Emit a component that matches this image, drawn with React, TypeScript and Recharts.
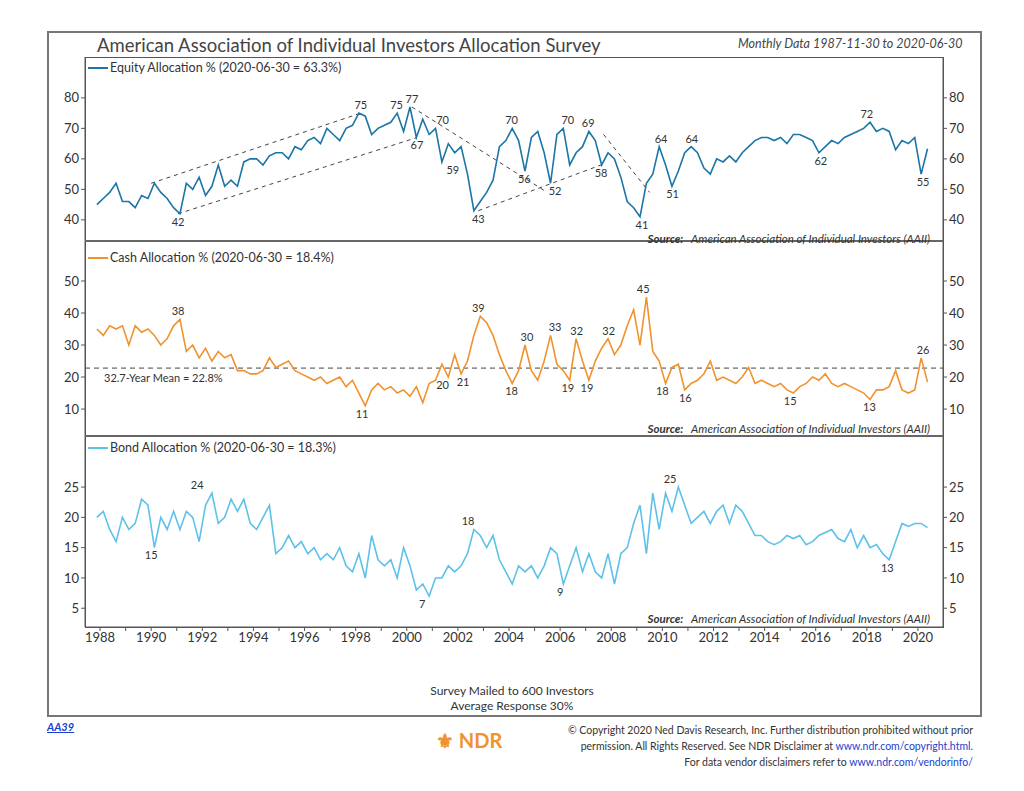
import React from "react";
import { LineChart, Line, XAxis, YAxis, ReferenceLine, ReferenceDot } from "recharts";

const START = 1987.875;
const STEP = 0.25;

const equity = [45,
 47,49,52,46, 46,44,48,47, 52,49,47,44, 42,52,50,54, 48,51,58,51, 53,51,59,60, 60,58,61,62, 62,60,64,63,
 66,67,65,70, 68,66,70,71, 75,74,68,70, 71,72,75,69, 77,67,73,68, 70,59,65,62, 64,55,43,46, 49,53,64,66,
 70,66,56,67, 69,62,52,68, 70,58,62,64, 69,66,58,62, 60,54,46,44, 41,52,55,64, 58,51,56,62, 64,62,57,55,
 60,59,61,59, 62,64,66,67, 67,66,67,65, 68,68,67,66, 62,64,66,65, 67,68,69,70, 72,69,70,69, 63,66,65,67,
 55,63.3];
const cash = [35,
 33,36,35,36, 30,36,34,35, 33,30,32,36, 38,28,30,26, 29,25,28,26, 27,22,22,21, 21,22,26,23, 24,25,22,21,
 20,19,20,18, 19,20,17,19, 15,11,16,18, 16,17,15,16, 14,17,12,18, 19,24,20,27, 21,25,33,39, 37,33,27,22,
 18,22,30,22, 19,25,33,24, 22,19,32,25, 19,25,29,32, 27,30,36,41, 30,45,28,25, 18,23,24,16, 18,19,21,25,
 19,20,19,18, 20,23,18,19, 18,17,18,16, 15,17,18,20, 19,21,18,17, 18,17,16,15, 13,16,16,17, 22,16,15,16,
 26,18.4];
const bond = [20,
 21,18,16,20, 18,19,23,22, 15,20,18,21, 18,21,20,16, 22,24,19,20, 23,21,23,19, 18,20,22,14, 15,17,15,16,
 14,15,13,14, 13,15,12,11, 14,10,17,13, 12,13,10,15, 12,8,9,7, 10,10,12,11, 12,14,18,17, 15,17,13,11,
 9,12,11,12, 10,12,15,14, 9,12,15,11, 14,11,10,14, 9,14,15,19, 22,14,24,18, 24,21,25,22, 19,20,21,19,
 21,22,19,22, 21,19,17,17, 16,15.5,16,17, 16.5,17,15.5,16, 17,17.5,18,16.5, 16,18,15,17, 15,15.5,14,13, 16,19,18.5,19,
 19,18.3];

const data = equity.map((e, i) => ({ t: START + i * STEP, equity: e, cash: cash[i], bond: bond[i] }));

const yearTicks = Array.from({ length: 33 }, (_, i) => 1988 + i);
const equityTicks = [40, 50, 60, 70, 80];
const cashTicks = [10, 20, 30, 40, 50];
const bondTicks = [5, 10, 15, 20, 25];

const equityNotes = [
  { t: 1991.05, v: 42, pos: "bottom" }, { t: 1998.2, v: 75, pos: "top" }, { t: 1999.6, v: 75, pos: "top" },
  { t: 2000.2, v: 77, pos: "top" }, { t: 2000.4, v: 67, pos: "bottom" }, { t: 2001.4, v: 70, pos: "top" },
  { t: 2001.8, v: 59, pos: "bottom" }, { t: 2002.8, v: 43, pos: "bottom" }, { t: 2004.1, v: 70, pos: "top" },
  { t: 2004.6, v: 56, pos: "bottom" }, { t: 2005.8, v: 52, pos: "bottom" }, { t: 2006.3, v: 70, pos: "top" },
  { t: 2007.1, v: 69, pos: "top" }, { t: 2007.6, v: 58, pos: "bottom" }, { t: 2009.2, v: 41, pos: "bottom" },
  { t: 2009.95, v: 64, pos: "top" }, { t: 2010.4, v: 51, pos: "bottom" }, { t: 2011.15, v: 64, pos: "top" },
  { t: 2016.2, v: 62, pos: "bottom" }, { t: 2018.0, v: 72, pos: "top" }, { t: 2020.2, v: 55, pos: "bottom" },
];
const cashNotes = [
  { t: 1991.05, v: 38, pos: "top" }, { t: 1998.25, v: 11, pos: "bottom" }, { t: 2001.4, v: 20, pos: "bottom" },
  { t: 2002.2, v: 21, pos: "bottom" }, { t: 2002.8, v: 39, pos: "top" }, { t: 2004.1, v: 18, pos: "bottom" },
  { t: 2004.7, v: 30, pos: "top" }, { t: 2005.8, v: 33, pos: "top" }, { t: 2006.3, v: 19, pos: "bottom" },
  { t: 2006.65, v: 32, pos: "top" }, { t: 2007.05, v: 19, pos: "bottom" }, { t: 2007.9, v: 32, pos: "top" },
  { t: 2009.25, v: 45, pos: "top" }, { t: 2010.0, v: 18, pos: "bottom" }, { t: 2010.9, v: 16, pos: "bottom" },
  { t: 2015.0, v: 15, pos: "bottom" }, { t: 2018.1, v: 13, pos: "bottom" }, { t: 2020.2, v: 26, pos: "top" },
];
const bondNotes = [
  { t: 1990.0, v: 15, pos: "bottom" }, { t: 1991.8, v: 24, pos: "top" }, { t: 2000.6, v: 7, pos: "bottom" },
  { t: 2002.4, v: 18, pos: "top" }, { t: 2006.0, v: 9, pos: "bottom" }, { t: 2010.3, v: 25, pos: "top" },
  { t: 2018.8, v: 13, pos: "bottom" },
];
const trendLines = [
  [{ x: 1990.0, y: 52 }, { x: 1998.2, y: 75 }],
  [{ x: 1991.05, y: 42 }, { x: 2000.4, y: 67 }],
  [{ x: 2000.2, y: 77 }, { x: 2005.4, y: 49.5 }],
  [{ x: 2002.8, y: 43 }, { x: 2007.6, y: 58 }],
  [{ x: 2007.7, y: 68 }, { x: 2009.5, y: 49 }],
];

const X_DOMAIN = [1987.41, 2020.98];
const FONT = "Lato, 'Open Sans', sans-serif";
const tickStyle = { fontSize: 13, fill: "#333", fontFamily: FONT };
const noteLabel = (n: any) => ({ value: String(n.v), position: n.pos, fontSize: 11, fill: "#333", fontFamily: FONT, offset: 4 });

function Panel({ top, height, dataKey, color, domain, ticks, notes, showX, children }: any) {
  return (
    <div style={{ position: "absolute", left: 0, top }}>
      <LineChart width={1024} height={height + (showX ? 30 : 0)} data={data}
        margin={{ top: 0, bottom: 0, left: 45, right: 41 }}>
        <XAxis dataKey="t" type="number" domain={X_DOMAIN} ticks={yearTicks} allowDataOverflow
          hide={!showX} height={30} tick={tickStyle} tickSize={4}
          tickFormatter={(v: number) => (v % 2 === 0 ? String(v) : "")}
          axisLine={{ stroke: "#555" }} tickLine={{ stroke: "#555" }} />
        <YAxis yAxisId="l" orientation="left" width={40} domain={domain} ticks={ticks} allowDataOverflow
          tick={tickStyle} tickSize={4} axisLine={{ stroke: "#555" }} tickLine={{ stroke: "#555" }} />
        <YAxis yAxisId="r" orientation="right" width={40} domain={domain} ticks={ticks} allowDataOverflow
          tick={tickStyle} tickSize={4} axisLine={{ stroke: "#555" }} tickLine={{ stroke: "#555" }} />
        {children}
        <Line yAxisId="l" dataKey={dataKey} stroke={color} strokeWidth={1.6} dot={false} isAnimationActive={false} />
        {notes.map((n: any, i: number) => (
          <ReferenceDot key={i} yAxisId="l" x={n.t} y={n.v} r={0} stroke="none" label={noteLabel(n)} />
        ))}
      </LineChart>
    </div>
  );
}

const txt: React.CSSProperties = { position: "absolute", fontFamily: FONT, color: "#333", whiteSpace: "nowrap" };

function Legend({ top, color, text }: any) {
  return (
    <div style={{ ...txt, left: 88, top, fontSize: 12.5, display: "flex", alignItems: "center" }}>
      <span style={{ display: "inline-block", width: 20, height: 2, background: color, marginRight: 2 }} />
      {text}
    </div>
  );
}
function Source({ top }: any) {
  return (
    <div style={{ ...txt, right: 1024 - 930, top, fontSize: 11.5, fontStyle: "italic" }}>
      <b>Source:</b>&nbsp;&nbsp; American Association of Individual Investors (AAII)
    </div>
  );
}

export default function App() {
  return (
    <div style={{ position: "absolute", left: 0, top: 0, width: 1024, height: 791, background: "#fff", fontFamily: FONT }}>
      <div style={{ position: "absolute", left: 47, top: 31, width: 931, height: 682, border: "2px solid #777" }} />
      <div style={{ ...txt, left: 97, top: 34, fontSize: 18.5, color: "#444" }}>American Association of Individual Investors Allocation Survey</div>
      <div style={{ ...txt, left: 738, top: 36, fontSize: 12.5, fontStyle: "italic", color: "#444" }}>Monthly Data 1987-11-30 to 2020-06-30</div>

      <Panel top={57} height={183} dataKey="equity" color="#1b75a6" domain={[33.4, 93.4]} ticks={equityTicks} notes={equityNotes}>
        {trendLines.map((s, i) => (
          <ReferenceLine key={i} yAxisId="l" segment={s} stroke="#444" strokeDasharray="4 4" strokeWidth={1} />
        ))}
      </Panel>
      <Panel top={240} height={195} dataKey="cash" color="#f0922e" domain={[1.9, 62.8]} ticks={cashTicks} notes={cashNotes}>
        <ReferenceLine yAxisId="l" y={22.8} stroke="#444" strokeDasharray="5 4" strokeWidth={1} />
      </Panel>
      <Panel top={435} height={192} dataKey="bond" color="#5ec1ea" domain={[1.9, 33.6]} ticks={bondTicks} notes={bondNotes} showX />

      <div style={{ position: "absolute", left: 85, top: 57, width: 857, height: 569, border: "1px solid #555", pointerEvents: "none" }} />
      <div style={{ position: "absolute", left: 85, top: 240, width: 858, height: 2, background: "#666" }} />
      <div style={{ position: "absolute", left: 85, top: 435, width: 858, height: 2, background: "#666" }} />

      <Legend top={60} color="#1b75a6" text="Equity Allocation % (2020-06-30 = 63.3%)" />
      <Legend top={250} color="#f0922e" text="Cash Allocation % (2020-06-30 = 18.4%)" />
      <Legend top={440} color="#5ec1ea" text="Bond Allocation % (2020-06-30 = 18.3%)" />
      <div style={{ ...txt, left: 104, top: 371, fontSize: 11 }}>32.7-Year Mean = 22.8%</div>
      <Source top={232} />
      <Source top={422} />
      <Source top={612} />

      <div style={{ ...txt, left: 0, width: 1024, textAlign: "center", top: 683, fontSize: 12, lineHeight: "15px" }}>
        Survey Mailed to 600 Investors<br />Average Response 30%
      </div>
      <div style={{ ...txt, left: 47, top: 720, fontSize: 11, color: "#1a3fd0", textDecoration: "underline", fontWeight: "bold", fontStyle: "italic" }}>AA39</div>
      <div style={{ ...txt, left: 436, top: 728, fontSize: 20, fontWeight: "bold", color: "#f0922e" }}>⚜ NDR</div>
      <div style={{ ...txt, right: 1024 - 973, top: 722, fontSize: 10.5, textAlign: "right", lineHeight: "16px" }}>
        © Copyright 2020 Ned Davis Research, Inc. Further distribution prohibited without prior<br />
        permission. All Rights Reserved. See NDR Disclaimer at <span style={{ color: "#1a3fd0" }}>www.ndr.com/copyright.html.</span><br />
        For data vendor disclaimers refer to <span style={{ color: "#1a3fd0" }}>www.ndr.com/vendorinfo/</span>
      </div>
    </div>
  );
}
